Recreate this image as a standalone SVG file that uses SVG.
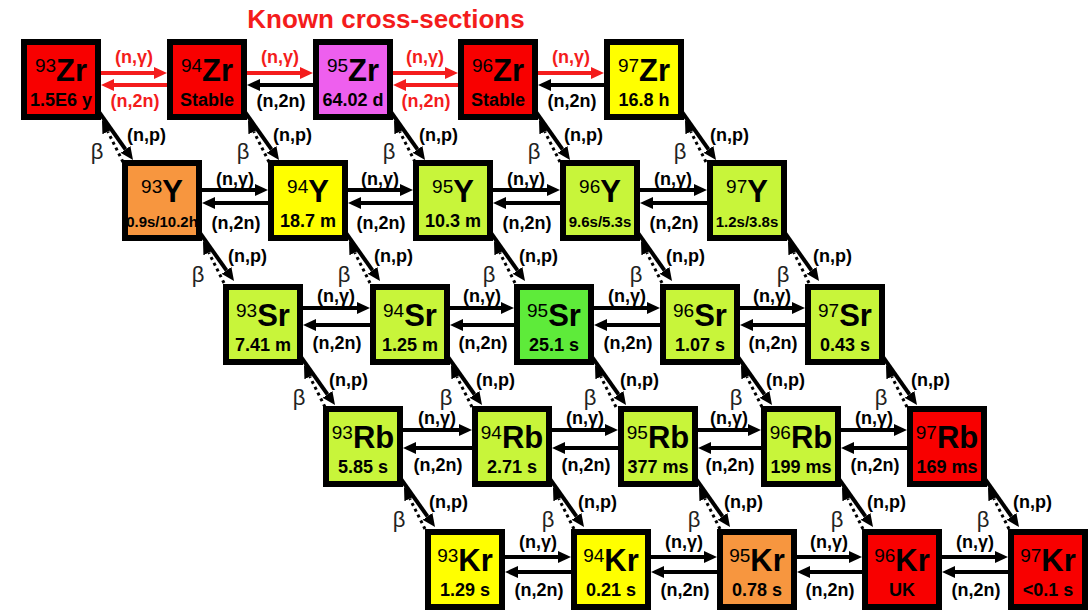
<svg xmlns="http://www.w3.org/2000/svg" width="1091" height="613" viewBox="0 0 1091 613">
<defs>
<marker id="ah" viewBox="0 0 13 12" refX="0" refY="6" markerWidth="13" markerHeight="12" markerUnits="userSpaceOnUse" orient="auto"><path d="M0,0 L13,6 L0,12 z" fill="#000"/></marker>
<marker id="ahr" viewBox="0 0 13 12" refX="0" refY="6" markerWidth="13" markerHeight="12" markerUnits="userSpaceOnUse" orient="auto"><path d="M0,0 L13,6 L0,12 z" fill="#f41c1c"/></marker>
<style>
text{font-family:"Liberation Sans",Arial,sans-serif;fill:#000}
.n rect{stroke:#000;stroke-width:6}
.r{fill:#f80000}.v{fill:#ee5fee}.y{fill:#ffff00}.o{fill:#f7963f}.g{fill:#c8f53a}.G{fill:#5eeb3a}
.sym{text-anchor:middle}
.a{font-size:19px}
.e{font-size:31px;font-weight:bold}
.hl{font-size:18px;font-weight:bold;text-anchor:middle}
.hs{font-size:15px}
.lab{font-size:18px;font-weight:bold;text-anchor:middle}
.np{font-size:18px;font-weight:bold}
.beta{font-size:22px;text-anchor:middle;fill:#222}
text.red{fill:#f41c1c}
.hb{stroke:#000;stroke-width:4;marker-end:url(#ah)}
.hr{stroke:#f41c1c;stroke-width:4;marker-end:url(#ahr)}
.s{stroke:#000;stroke-width:4;marker-end:url(#ah)}
.d{stroke:#000;stroke-width:3;stroke-dasharray:3 3.5;marker-end:url(#ah)}
.title{font-size:26px;font-weight:bold;fill:#f41c1c;text-anchor:middle}
</style>
</defs>
<rect width="1091" height="613" fill="#fff"/>
<text class="title" x="386" y="28">Known cross-sections</text>

<g id="connectors">
<!-- row 1 horizontal -->
<line class="hr" x1="101" y1="73" x2="154" y2="73"/><line class="hr" x1="167" y1="85" x2="114" y2="85"/>
<line class="hr" x1="247" y1="73" x2="300" y2="73"/><line class="hb" x1="313" y1="85" x2="260" y2="85"/>
<line class="hr" x1="393" y1="73" x2="445" y2="73"/><line class="hr" x1="458" y1="85" x2="406" y2="85"/>
<line class="hr" x1="538" y1="73" x2="591" y2="73"/><line class="hb" x1="604" y1="85" x2="551" y2="85"/>
<text class="lab red" x="134" y="63">(n,γ)</text><text class="lab red" x="135" y="107">(n,2n)</text>
<text class="lab red" x="280" y="63">(n,γ)</text><text class="lab" x="281" y="107">(n,2n)</text>
<text class="lab red" x="425" y="63">(n,γ)</text><text class="lab red" x="426" y="107">(n,2n)</text>
<text class="lab red" x="571" y="63">(n,γ)</text><text class="lab" x="572" y="107">(n,2n)</text>
<!-- row 2 horizontal -->
<line class="hb" x1="202" y1="190" x2="255" y2="190"/><line class="hb" x1="268" y1="203" x2="215" y2="203"/>
<line class="hb" x1="348" y1="190" x2="400" y2="190"/><line class="hb" x1="413" y1="203" x2="361" y2="203"/>
<line class="hb" x1="493" y1="190" x2="547" y2="190"/><line class="hb" x1="560" y1="203" x2="506" y2="203"/>
<line class="hb" x1="640" y1="190" x2="694" y2="190"/><line class="hb" x1="707" y1="203" x2="653" y2="203"/>
<text class="lab" x="235" y="185">(n,γ)</text><text class="lab" x="236" y="229">(n,2n)</text>
<text class="lab" x="380" y="185">(n,γ)</text><text class="lab" x="381" y="229">(n,2n)</text>
<text class="lab" x="526" y="185">(n,γ)</text><text class="lab" x="527" y="229">(n,2n)</text>
<text class="lab" x="673" y="185">(n,γ)</text><text class="lab" x="674" y="229">(n,2n)</text>
<!-- row 3 horizontal -->
<line class="hb" x1="303" y1="308" x2="357" y2="308"/><line class="hb" x1="370" y1="325" x2="316" y2="325"/>
<line class="hb" x1="450" y1="308" x2="501" y2="308"/><line class="hb" x1="514" y1="325" x2="463" y2="325"/>
<line class="hb" x1="594" y1="308" x2="647" y2="308"/><line class="hb" x1="660" y1="325" x2="607" y2="325"/>
<line class="hb" x1="740" y1="308" x2="792" y2="308"/><line class="hb" x1="805" y1="325" x2="753" y2="325"/>
<text class="lab" x="336" y="302">(n,γ)</text><text class="lab" x="337" y="349">(n,2n)</text>
<text class="lab" x="482" y="302">(n,γ)</text><text class="lab" x="483" y="349">(n,2n)</text>
<text class="lab" x="627" y="302">(n,γ)</text><text class="lab" x="628" y="349">(n,2n)</text>
<text class="lab" x="772" y="302">(n,γ)</text><text class="lab" x="773" y="349">(n,2n)</text>
<!-- row 4 horizontal -->
<line class="hb" x1="403" y1="430" x2="459" y2="430"/><line class="hb" x1="472" y1="448" x2="416" y2="448"/>
<line class="hb" x1="552" y1="430" x2="605" y2="430"/><line class="hb" x1="618" y1="448" x2="565" y2="448"/>
<line class="hb" x1="698" y1="430" x2="748" y2="430"/><line class="hb" x1="761" y1="448" x2="711" y2="448"/>
<line class="hb" x1="841" y1="430" x2="894" y2="430"/><line class="hb" x1="907" y1="448" x2="854" y2="448"/>
<text class="lab" x="437" y="424">(n,γ)</text><text class="lab" x="438" y="471">(n,2n)</text>
<text class="lab" x="585" y="424">(n,γ)</text><text class="lab" x="586" y="471">(n,2n)</text>
<text class="lab" x="729" y="424">(n,γ)</text><text class="lab" x="730" y="471">(n,2n)</text>
<text class="lab" x="874" y="424">(n,γ)</text><text class="lab" x="875" y="471">(n,2n)</text>
<!-- row 5 horizontal -->
<line class="hb" x1="505" y1="557" x2="558" y2="557"/><line class="hb" x1="571" y1="572" x2="518" y2="572"/>
<line class="hb" x1="651" y1="557" x2="704" y2="557"/><line class="hb" x1="717" y1="572" x2="664" y2="572"/>
<line class="hb" x1="797" y1="557" x2="849" y2="557"/><line class="hb" x1="862" y1="572" x2="810" y2="572"/>
<line class="hb" x1="942" y1="557" x2="995" y2="557"/><line class="hb" x1="1008" y1="572" x2="955" y2="572"/>
<text class="lab" x="538" y="548">(n,γ)</text><text class="lab" x="539" y="596">(n,2n)</text>
<text class="lab" x="684" y="548">(n,γ)</text><text class="lab" x="685" y="596">(n,2n)</text>
<text class="lab" x="829" y="548">(n,γ)</text><text class="lab" x="830" y="596">(n,2n)</text>
<text class="lab" x="975" y="548">(n,γ)</text><text class="lab" x="976" y="596">(n,2n)</text>

<!-- diagonals: (n,p) solid down, beta dotted up -->
<g transform="translate(101,120)"><line class="s" x1="-2" y1="-8" x2="24.5" y2="29.4"/><line class="d" x1="22" y1="42" x2="6.8" y2="11.6"/><text class="np" x="26" y="21">(n,p)</text><text class="beta" x="-4" y="39">β</text></g>
<g transform="translate(247,120)"><line class="s" x1="-2" y1="-8" x2="24.5" y2="29.4"/><line class="d" x1="22" y1="42" x2="6.8" y2="11.6"/><text class="np" x="26" y="21">(n,p)</text><text class="beta" x="-4" y="39">β</text></g>
<g transform="translate(393,120)"><line class="s" x1="-2" y1="-8" x2="24.5" y2="29.4"/><line class="d" x1="22" y1="42" x2="6.8" y2="11.6"/><text class="np" x="26" y="21">(n,p)</text><text class="beta" x="-4" y="39">β</text></g>
<g transform="translate(538,120)"><line class="s" x1="-2" y1="-8" x2="24.5" y2="29.4"/><line class="d" x1="22" y1="42" x2="6.8" y2="11.6"/><text class="np" x="26" y="21">(n,p)</text><text class="beta" x="-4" y="39">β</text></g>
<g transform="translate(684,120)"><line class="s" x1="-2" y1="-8" x2="24.5" y2="29.4"/><line class="d" x1="22" y1="42" x2="6.8" y2="11.6"/><text class="np" x="26" y="21">(n,p)</text><text class="beta" x="-4" y="39">β</text></g>

<g transform="translate(202,241)"><line class="s" x1="-2" y1="-8" x2="24.5" y2="29.4"/><line class="d" x1="22" y1="42" x2="6.8" y2="11.6"/><text class="np" x="26" y="21">(n,p)</text><text class="beta" x="-4" y="41">β</text></g>
<g transform="translate(348,241)"><line class="s" x1="-2" y1="-8" x2="24.5" y2="29.4"/><line class="d" x1="22" y1="42" x2="6.8" y2="11.6"/><text class="np" x="26" y="21">(n,p)</text><text class="beta" x="-4" y="41">β</text></g>
<g transform="translate(493,241)"><line class="s" x1="-2" y1="-8" x2="24.5" y2="29.4"/><line class="d" x1="22" y1="42" x2="6.8" y2="11.6"/><text class="np" x="26" y="21">(n,p)</text><text class="beta" x="-4" y="41">β</text></g>
<g transform="translate(640,241)"><line class="s" x1="-2" y1="-8" x2="24.5" y2="29.4"/><line class="d" x1="22" y1="42" x2="6.8" y2="11.6"/><text class="np" x="26" y="21">(n,p)</text><text class="beta" x="-4" y="41">β</text></g>
<g transform="translate(787,241)"><line class="s" x1="-2" y1="-8" x2="24.5" y2="29.4"/><line class="d" x1="22" y1="42" x2="6.8" y2="11.6"/><text class="np" x="26" y="21">(n,p)</text><text class="beta" x="-4" y="41">β</text></g>

<g transform="translate(303,365)"><line class="s" x1="-2" y1="-8" x2="24.5" y2="29.4"/><line class="d" x1="22" y1="42" x2="6.8" y2="11.6"/><text class="np" x="26" y="21">(n,p)</text><text class="beta" x="-4" y="40">β</text></g>
<g transform="translate(450,365)"><line class="s" x1="-2" y1="-8" x2="24.5" y2="29.4"/><line class="d" x1="22" y1="42" x2="6.8" y2="11.6"/><text class="np" x="26" y="21">(n,p)</text><text class="beta" x="-4" y="40">β</text></g>
<g transform="translate(594,365)"><line class="s" x1="-2" y1="-8" x2="24.5" y2="29.4"/><line class="d" x1="22" y1="42" x2="6.8" y2="11.6"/><text class="np" x="26" y="21">(n,p)</text><text class="beta" x="-4" y="40">β</text></g>
<g transform="translate(740,365)"><line class="s" x1="-2" y1="-8" x2="24.5" y2="29.4"/><line class="d" x1="22" y1="42" x2="6.8" y2="11.6"/><text class="np" x="26" y="21">(n,p)</text><text class="beta" x="-4" y="40">β</text></g>
<g transform="translate(885,365)"><line class="s" x1="-2" y1="-8" x2="24.5" y2="29.4"/><line class="d" x1="22" y1="42" x2="6.8" y2="11.6"/><text class="np" x="26" y="21">(n,p)</text><text class="beta" x="-4" y="40">β</text></g>

<g transform="translate(403,487)"><line class="s" x1="-2" y1="-8" x2="24.5" y2="29.4"/><line class="d" x1="22" y1="42" x2="6.8" y2="11.6"/><text class="np" x="26" y="21">(n,p)</text><text class="beta" x="-4" y="40">β</text></g>
<g transform="translate(552,487)"><line class="s" x1="-2" y1="-8" x2="24.5" y2="29.4"/><line class="d" x1="22" y1="42" x2="6.8" y2="11.6"/><text class="np" x="26" y="21">(n,p)</text><text class="beta" x="-4" y="40">β</text></g>
<g transform="translate(698,487)"><line class="s" x1="-2" y1="-8" x2="24.5" y2="29.4"/><line class="d" x1="22" y1="42" x2="6.8" y2="11.6"/><text class="np" x="26" y="21">(n,p)</text><text class="beta" x="-4" y="40">β</text></g>
<g transform="translate(841,487)"><line class="s" x1="-2" y1="-8" x2="24.5" y2="29.4"/><line class="d" x1="22" y1="42" x2="6.8" y2="11.6"/><text class="np" x="26" y="21">(n,p)</text><text class="beta" x="-4" y="40">β</text></g>
<g transform="translate(987,487)"><line class="s" x1="-2" y1="-8" x2="24.5" y2="29.4"/><line class="d" x1="22" y1="42" x2="6.8" y2="11.6"/><text class="np" x="26" y="21">(n,p)</text><text class="beta" x="-4" y="40">β</text></g>
</g>

<!-- row 1: Zr -->
<g id="zr93" class="n"><rect class="r" x="24" y="42" width="74" height="75"/><text class="sym" x="61" y="81"><tspan class="a" dy="-9">93</tspan><tspan class="e" dy="9">Zr</tspan></text><text class="hl" x="61" y="106">1.5E6 y</text></g>
<g id="zr94" class="n"><rect class="r" x="170" y="42" width="74" height="75"/><text class="sym" x="207" y="81"><tspan class="a" dy="-9">94</tspan><tspan class="e" dy="9">Zr</tspan></text><text class="hl" x="207" y="106">Stable</text></g>
<g id="zr95" class="n"><rect class="v" x="316" y="42" width="74" height="75"/><text class="sym" x="353" y="81"><tspan class="a" dy="-9">95</tspan><tspan class="e" dy="9">Zr</tspan></text><text class="hl" x="353" y="106">64.02 d</text></g>
<g id="zr96" class="n"><rect class="r" x="461" y="42" width="74" height="75"/><text class="sym" x="498" y="81"><tspan class="a" dy="-9">96</tspan><tspan class="e" dy="9">Zr</tspan></text><text class="hl" x="498" y="106">Stable</text></g>
<g id="zr97" class="n"><rect class="y" x="607" y="42" width="74" height="75"/><text class="sym" x="644" y="81"><tspan class="a" dy="-9">97</tspan><tspan class="e" dy="9">Zr</tspan></text><text class="hl" x="644" y="106">16.8 h</text></g>

<!-- row 2: Y -->
<g id="y93" class="n"><rect class="o" x="125" y="163" width="74" height="75"/><text class="sym" x="162" y="202"><tspan class="a" dy="-9">93</tspan><tspan class="e" dy="9">Y</tspan></text><text class="hl hs" x="162" y="227">0.9s/10.2h</text></g>
<g id="y94" class="n"><rect class="y" x="271" y="163" width="74" height="75"/><text class="sym" x="308" y="202"><tspan class="a" dy="-9">94</tspan><tspan class="e" dy="9">Y</tspan></text><text class="hl" x="308" y="227">18.7 m</text></g>
<g id="y95" class="n"><rect class="g" x="416" y="163" width="74" height="75"/><text class="sym" x="453" y="202"><tspan class="a" dy="-9">95</tspan><tspan class="e" dy="9">Y</tspan></text><text class="hl" x="453" y="227">10.3 m</text></g>
<g id="y96" class="n"><rect class="g" x="563" y="163" width="74" height="75"/><text class="sym" x="600" y="202"><tspan class="a" dy="-9">96</tspan><tspan class="e" dy="9">Y</tspan></text><text class="hl hs" x="600" y="227">9.6s/5.3s</text></g>
<g id="y97" class="n"><rect class="g" x="710" y="163" width="74" height="75"/><text class="sym" x="747" y="202"><tspan class="a" dy="-9">97</tspan><tspan class="e" dy="9">Y</tspan></text><text class="hl hs" x="747" y="227">1.2s/3.8s</text></g>

<!-- row 3: Sr -->
<g id="sr93" class="n"><rect class="g" x="226" y="287" width="74" height="75"/><text class="sym" x="263" y="326"><tspan class="a" dy="-9">93</tspan><tspan class="e" dy="9">Sr</tspan></text><text class="hl" x="263" y="351">7.41 m</text></g>
<g id="sr94" class="n"><rect class="g" x="373" y="287" width="74" height="75"/><text class="sym" x="410" y="326"><tspan class="a" dy="-9">94</tspan><tspan class="e" dy="9">Sr</tspan></text><text class="hl" x="410" y="351">1.25 m</text></g>
<g id="sr95" class="n"><rect class="G" x="517" y="287" width="74" height="75"/><text class="sym" x="554" y="326"><tspan class="a" dy="-9">95</tspan><tspan class="e" dy="9">Sr</tspan></text><text class="hl" x="554" y="351">25.1 s</text></g>
<g id="sr96" class="n"><rect class="g" x="663" y="287" width="74" height="75"/><text class="sym" x="700" y="326"><tspan class="a" dy="-9">96</tspan><tspan class="e" dy="9">Sr</tspan></text><text class="hl" x="700" y="351">1.07 s</text></g>
<g id="sr97" class="n"><rect class="g" x="808" y="287" width="74" height="75"/><text class="sym" x="845" y="326"><tspan class="a" dy="-9">97</tspan><tspan class="e" dy="9">Sr</tspan></text><text class="hl" x="845" y="351">0.43 s</text></g>

<!-- row 4: Rb -->
<g id="rb93" class="n"><rect class="g" x="326" y="409" width="74" height="75"/><text class="sym" x="363" y="448"><tspan class="a" dy="-9">93</tspan><tspan class="e" dy="9">Rb</tspan></text><text class="hl" x="363" y="473">5.85 s</text></g>
<g id="rb94" class="n"><rect class="g" x="475" y="409" width="74" height="75"/><text class="sym" x="512" y="448"><tspan class="a" dy="-9">94</tspan><tspan class="e" dy="9">Rb</tspan></text><text class="hl" x="512" y="473">2.71 s</text></g>
<g id="rb95" class="n"><rect class="g" x="621" y="409" width="74" height="75"/><text class="sym" x="658" y="448"><tspan class="a" dy="-9">95</tspan><tspan class="e" dy="9">Rb</tspan></text><text class="hl" x="658" y="473">377 ms</text></g>
<g id="rb96" class="n"><rect class="g" x="764" y="409" width="74" height="75"/><text class="sym" x="801" y="448"><tspan class="a" dy="-9">96</tspan><tspan class="e" dy="9">Rb</tspan></text><text class="hl" x="801" y="473">199 ms</text></g>
<g id="rb97" class="n"><rect class="r" x="910" y="409" width="74" height="75"/><text class="sym" x="947" y="448"><tspan class="a" dy="-9">97</tspan><tspan class="e" dy="9">Rb</tspan></text><text class="hl" x="947" y="473">169 ms</text></g>

<!-- row 5: Kr -->
<g id="kr93" class="n"><rect class="y" x="428" y="532" width="74" height="75"/><text class="sym" x="465" y="571"><tspan class="a" dy="-9">93</tspan><tspan class="e" dy="9">Kr</tspan></text><text class="hl" x="465" y="596">1.29 s</text></g>
<g id="kr94" class="n"><rect class="y" x="574" y="532" width="74" height="75"/><text class="sym" x="611" y="571"><tspan class="a" dy="-9">94</tspan><tspan class="e" dy="9">Kr</tspan></text><text class="hl" x="611" y="596">0.21 s</text></g>
<g id="kr95" class="n"><rect class="o" x="720" y="532" width="74" height="75"/><text class="sym" x="757" y="571"><tspan class="a" dy="-9">95</tspan><tspan class="e" dy="9">Kr</tspan></text><text class="hl" x="757" y="596">0.78 s</text></g>
<g id="kr96" class="n"><rect class="r" x="865" y="532" width="74" height="75"/><text class="sym" x="902" y="571"><tspan class="a" dy="-9">96</tspan><tspan class="e" dy="9">Kr</tspan></text><text class="hl" x="902" y="596">UK</text></g>
<g id="kr97" class="n"><rect class="r" x="1011" y="532" width="74" height="75"/><text class="sym" x="1048" y="571"><tspan class="a" dy="-9">97</tspan><tspan class="e" dy="9">Kr</tspan></text><text class="hl" x="1048" y="596">&lt;0.1 s</text></g>
</svg>
